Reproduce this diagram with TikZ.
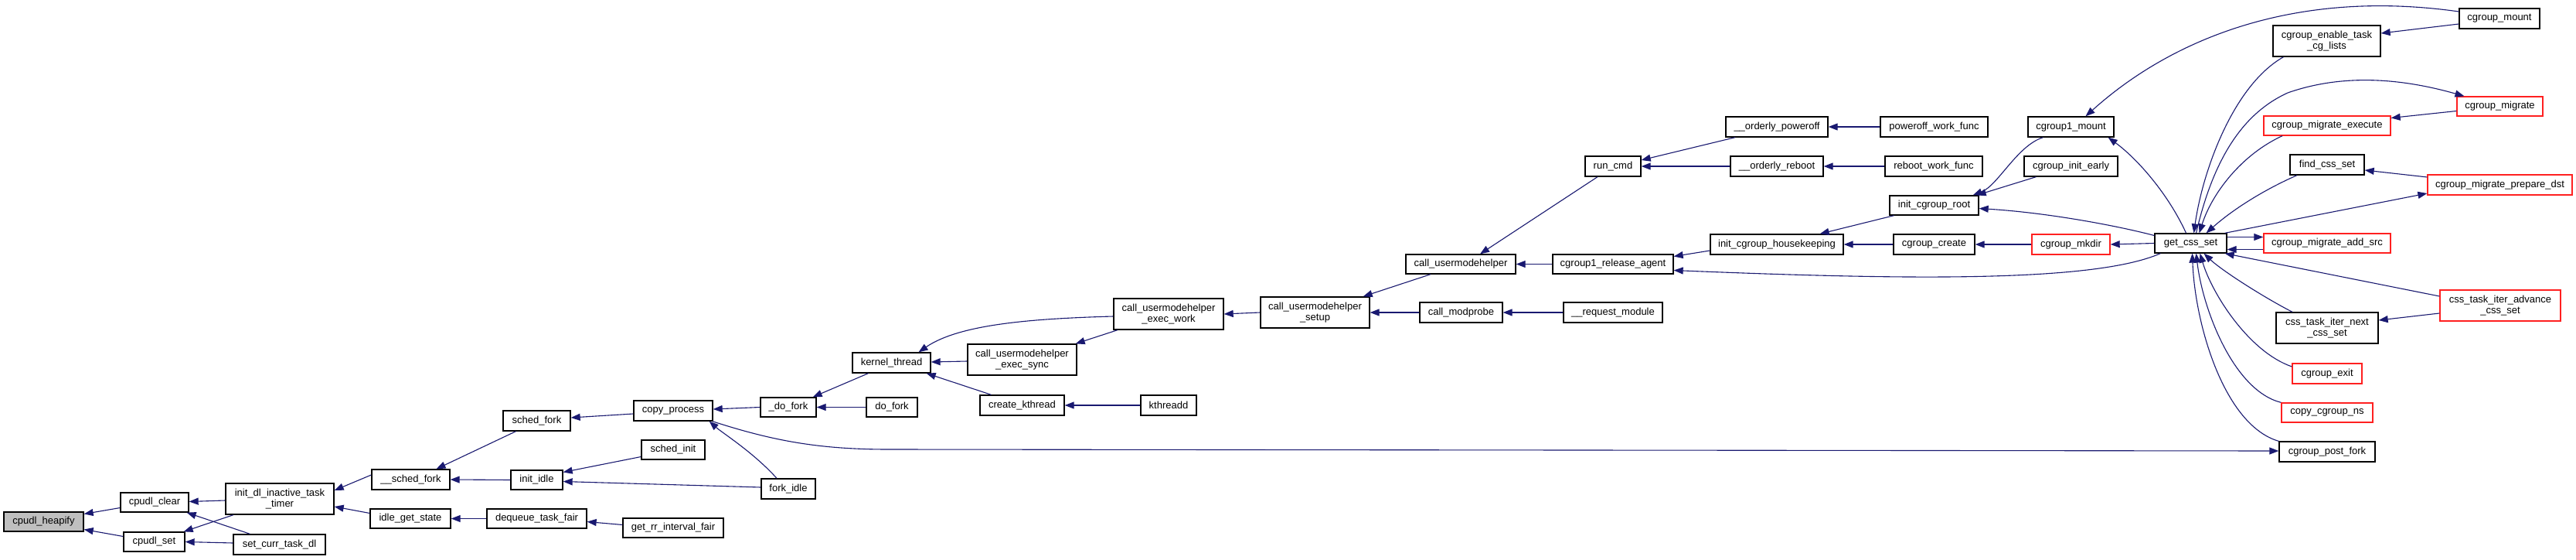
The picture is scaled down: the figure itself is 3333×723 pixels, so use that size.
\documentclass[tikz,border=0pt]{standalone}
\usepackage{fontspec}
\setmainfont{Liberation Sans}
\usetikzlibrary{arrows.meta}
\definecolor{mblue}{HTML}{191970}
\definecolor{gfill}{HTML}{BFBFBF}
\definecolor{nred}{HTML}{FF2020}
\newcommand{\bx}[7]{\node[#1, minimum width={(#5-#3)*1pt}, minimum height={(#6-#4)*1pt}] (#2) at ({(#3+#5)/2},{(#4+#6)/2}) {#7};}
\begin{document}
\begin{tikzpicture}[x=1pt,y=-1pt,
  fn/.style={draw=black, fill=white, line width=1.3pt, inner sep=0pt, align=center,
    font=\fontsize{13}{14.5}\selectfont},
  fnr/.style={fn, draw=nred},
  fnh/.style={fn, fill=gfill},
  e/.style={draw=mblue, line width=1.1pt, -{Triangle[length=12pt,width=9pt]}}]
\useasboundingbox (0,0) rectangle (3333,723);
\fill[white] (0,0) rectangle (3333,723);
% nodes
\bx{fnh}{heapify}{5}{662}{108}{687}{cpudl\_heapify}
\bx{fn}{clear}{156}{637}{244}{662}{cpudl\_clear}
\bx{fn}{set}{160}{688}{239}{713}{cpudl\_set}
\bx{fn}{idl}{292}{625}{432}{665}{init\_dl\_inactive\_task\\\_timer}
\bx{fn}{setcurr}{302}{691}{421}{717}{set\_curr\_task\_dl}
\bx{fn}{sfkk}{481}{607}{582}{633}{\_\_sched\_fork}
\bx{fn}{idlegs}{479}{658}{583}{683}{idle\_get\_state}
\bx{fn}{sfork}{651}{531}{738}{557}{sched\_fork}
\bx{fn}{initidle}{661}{608}{728}{633}{init\_idle}
\bx{fn}{dequeue}{630}{658}{759}{683}{dequeue\_task\_fair}
\bx{fn}{copyproc}{820}{518}{922}{544}{copy\_process}
\bx{fn}{schedinit}{830}{569}{912}{594}{sched\_init}
\bx{fn}{getrr}{806}{670}{936}{695}{get\_rr\_interval\_fair}
\bx{fn}{dofk}{984}{514}{1056}{539}{\_do\_fork}
\bx{fn}{forkidle}{985}{619}{1055}{645}{fork\_idle}
\bx{fn}{kthread}{1103}{456}{1204}{482}{kernel\_thread}
\bx{fn}{dofork}{1121}{514}{1187}{539}{do\_fork}
\bx{fn}{cuhsync}{1252}{445}{1393}{485}{call\_usermodehelper\\\_exec\_sync}
\bx{fn}{createk}{1268}{511}{1377}{537}{create\_kthread}
\bx{fn}{cuhwork}{1441}{386}{1583}{426}{call\_usermodehelper\\\_exec\_work}
\bx{fn}{kthreadd}{1476}{511}{1548}{537}{kthreadd}
\bx{fn}{cuhsetup}{1631}{384}{1772}{424}{call\_usermodehelper\\\_setup}
\bx{fn}{cumh}{1819}{329}{1961}{354}{call\_usermodehelper}
\bx{fn}{modprobe}{1837}{391}{1944}{417}{call\_modprobe}
\bx{fn}{runcmd}{2051}{202}{2123}{228}{run\_cmd}
\bx{fn}{relagent}{2009}{329}{2165}{354}{cgroup1\_release\_agent}
\bx{fn}{reqmod}{2023}{391}{2151}{417}{\_\_request\_module}
\bx{fn}{poweroff}{2233}{151}{2365}{177}{\_\_orderly\_poweroff}
\bx{fn}{reboot}{2239}{202}{2359}{228}{\_\_orderly\_reboot}
\bx{fn}{housekeep}{2213}{303}{2385}{329}{init\_cgroup\_housekeeping}
\bx{fn}{powerfunc}{2433}{151}{2572}{177}{poweroff\_work\_func}
\bx{fn}{rebootfunc}{2439}{202}{2565}{228}{reboot\_work\_func}
\bx{fn}{initroot}{2445}{253}{2560}{278}{init\_cgroup\_root}
\bx{fn}{ccreate}{2450}{303}{2555}{329}{cgroup\_create}
\bx{fn}{cimount}{2624}{151}{2735}{177}{cgroup1\_mount}
\bx{fn}{cinitearly}{2619}{202}{2740}{228}{cgroup\_init\_early}
\bx{fnr}{mkdir}{2629}{303}{2730}{329}{cgroup\_mkdir}
\bx{fn}{getcss}{2788}{302}{2881}{327}{get\_css\_set}
\bx{fn}{enable}{2941}{33}{3080}{73}{cgroup\_enable\_task\\\_cg\_lists}
\bx{fnr}{mexec}{2929}{150}{3093}{175}{cgroup\_migrate\_execute}
\bx{fn}{findcss}{2963}{200}{3059}{226}{find\_css\_set}
\bx{fnr}{addsrc}{2929}{302}{3093}{327}{cgroup\_migrate\_add\_src}
\bx{fn}{iternext}{2945}{404}{3077}{444}{css\_task\_iter\_next\\\_css\_set}
\bx{fnr}{cexit}{2966}{470}{3056}{496}{cgroup\_exit}
\bx{fnr}{copyns}{2952}{521}{3070}{546}{copy\_cgroup\_ns}
\bx{fn}{postfork}{2949}{571}{3073}{597}{cgroup\_post\_fork}
\bx{fn}{cmount}{3182}{11}{3286}{37}{cgroup\_mount}
\bx{fnr}{migrate}{3179}{125}{3290}{150}{cgroup\_migrate}
\bx{fnr}{prepdst}{3141}{226}{3328}{252}{cgroup\_migrate\_prepare\_dst}
\bx{fnr}{iteradv}{3157}{375}{3313}{415}{css\_task\_iter\_advance\\\_css\_set}
% edges
\draw[e] ([yshift=-7pt]clear.west) -- ([yshift=10pt]heapify.east);
\draw[e] ([yshift=7pt]set.west) -- ([yshift=-10pt]heapify.east);
\draw[e] ([yshift=-2pt]idl.west) -- ([yshift=1pt]clear.east);
\draw[e] ([xshift=-38pt]setcurr.north) -- ([xshift=-3pt]clear.south east);
\draw[e] ([xshift=-60pt]idl.south) -- ([xshift=-2pt]set.north east);
\draw[e] ([yshift=2pt]setcurr.west) -- (set.east);
\draw[e] ([yshift=6pt]sfkk.west) -- ([yshift=11pt]idl.east);
\draw[e] ([yshift=7pt]idlegs.west) -- ([yshift=-10pt]idl.east);
\draw[e] ([xshift=-27pt]sfork.south) -- ([xshift=33pt]sfkk.north);
\draw[e] (initidle.west) -- (sfkk.east);
\draw[e] (dequeue.west) -- (idlegs.east);
\draw[e] ([yshift=-4pt]copyproc.west) -- ([yshift=4pt]sfork.east);
\draw[e] ([yshift=-9pt]schedinit.west) -- ([yshift=10pt]initidle.east);
\draw[e] ([yshift=2pt]forkidle.west) -- ([yshift=-2pt]initidle.east);
\draw[e] ([yshift=4pt]getrr.west) -- ([yshift=-4pt]dequeue.east);
\draw[e] (dofk.west) -- ([yshift=2pt]copyproc.east);
\draw[e] ([xshift=-15pt]forkidle.north) .. controls (975,585) and (935,560) .. ([xshift=-5pt]copyproc.south east);
\draw[e] ([xshift=-1pt]copyproc.south east) .. controls (1000,570) and (1060,581) .. (1150,581) -- ([yshift=1pt]postfork.west);
\draw[e] ([xshift=-30pt]kthread.south) -- ([xshift=-5pt]dofk.north east);
\draw[e] (dofork.west) -- (dofk.east);
\draw[e] ([yshift=-3pt]cuhwork.west) .. controls (1330,412) and (1240,420) .. ([xshift=35pt]kthread.north);
\draw[e] ([yshift=-2pt]cuhsync.west) -- ([yshift=1pt]kthread.east);
\draw[e] ([xshift=-40pt]createk.north) -- ([xshift=-6pt]kthread.south east);
\draw[e] ([xshift=-66pt]cuhwork.south) -- ([xshift=-2pt]cuhsync.north east);
\draw[e] (kthreadd.west) -- (createk.east);
\draw[e] (cuhsetup.west) -- (cuhwork.east);
\draw[e] ([xshift=-39pt]cumh.south) -- ([xshift=-9pt]cuhsetup.north east);
\draw[e] (modprobe.west) -- (cuhsetup.east);
\draw[e] (reqmod.west) -- (modprobe.east);
\draw[e] ([xshift=-20pt]runcmd.south) -- ([xshift=25pt]cumh.north);
\draw[e] (relagent.west) -- (cumh.east);
\draw[e] ([xshift=-54pt]poweroff.south) -- ([yshift=8pt]runcmd.east);
\draw[e] (reboot.west) -- (runcmd.east);
\draw[e] (powerfunc.west) -- (poweroff.east);
\draw[e] (rebootfunc.west) -- (reboot.east);
\draw[e] ([yshift=-8pt]housekeep.west) -- ([yshift=10pt]relagent.east);
\draw[e] ([xshift=8pt]getcss.south west) .. controls (2710,365) and (2470,362) .. ([yshift=-8pt]relagent.east);
\draw[e] ([xshift=-52pt]initroot.south) -- ([xshift=-31pt]housekeep.north east);
\draw[e] (ccreate.west) -- (housekeep.east);
\draw[e] ([xshift=-36pt]cimount.south) .. controls (2610,188) and (2585,240) .. ([xshift=-8pt]initroot.north east);
\draw[e] ([xshift=-45pt]cinitearly.south) -- ([xshift=-3pt]initroot.north east);
\draw[e] ([yshift=10pt]getcss.west) .. controls (2740,292) and (2650,275) .. ([yshift=-4pt]initroot.east);
\draw[e] (mkdir.west) -- (ccreate.east);
\draw[e] (getcss.west) -- (mkdir.east);
\draw[e] ([xshift=-6pt]getcss.north) .. controls (2805,250) and (2765,205) .. ([xshift=-8pt]cimount.south east);
\draw[e] ([yshift=9pt]cmount.west) .. controls (2970,-15) and (2810,50) .. ([xshift=19pt]cimount.north);
\draw[e] ([yshift=-7pt]cmount.west) -- ([yshift=10pt]enable.east);
\draw[e] ([xshift=-56pt]enable.south) .. controls (2890,110) and (2850,220) .. ([xshift=4pt]getcss.north);
\draw[e] ([xshift=7pt]getcss.north) .. controls (2865,200) and (2905,145) .. (2960,120) .. controls (3040,92) and (3120,105) .. ([xshift=-46pt]migrate.north);
\draw[e] ([yshift=-6pt]migrate.west) -- ([yshift=10pt]mexec.east);
\draw[e] ([xshift=-58pt]mexec.south) .. controls (2900,200) and (2862,250) .. ([xshift=11pt]getcss.north);
\draw[e] ([yshift=10pt]prepdst.west) -- ([yshift=-7pt]findcss.east);
\draw[e] ([xshift=-3pt]getcss.north east) -- ([yshift=-11pt]prepdst.west);
\draw[e] ([xshift=-39pt]findcss.south) .. controls (2930,245) and (2890,270) .. ([xshift=20pt]getcss.north);
\draw[e] ([yshift=8pt]getcss.east) -- ([yshift=8pt]addsrc.west);
\draw[e] ([yshift=-8pt]addsrc.west) -- ([yshift=-8pt]getcss.east);
\draw[e] ([yshift=12pt]iteradv.west) -- ([xshift=-3pt]getcss.south east);
\draw[e] ([yshift=-10pt]iteradv.west) -- ([yshift=10pt]iternext.east);
\draw[e] ([xshift=-45pt]iternext.north) .. controls (2930,385) and (2875,350) .. ([xshift=17pt]getcss.south);
\draw[e] ([yshift=9pt]cexit.west) .. controls (2910,455) and (2862,380) .. ([xshift=12pt]getcss.south);
\draw[e] (copyns.north west) .. controls (2890,505) and (2850,400) .. ([xshift=7pt]getcss.south);
\draw[e] (postfork.north west) .. controls (2878,550) and (2840,420) .. ([xshift=2pt]getcss.south);
\end{tikzpicture}
\end{document}
